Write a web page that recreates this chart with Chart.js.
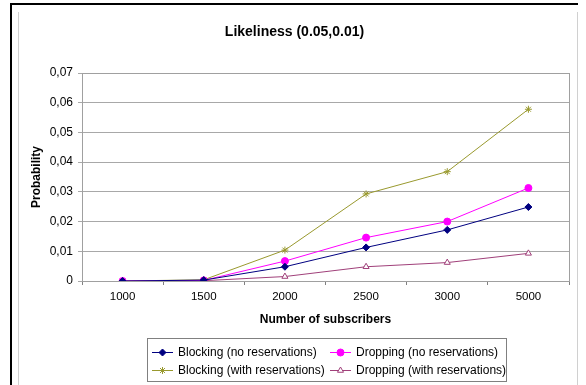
<!DOCTYPE html>
<html>
<head>
<meta charset="utf-8">
<script src="https://cdn.jsdelivr.net/npm/chart.js@4"></script>
<style>
  html, body { margin: 0; padding: 0; background: #fff; }
  #wrap { width: 586px; height: 385px; }
</style>
</head>
<body>
<div id="wrap"><canvas id="chart" width="586" height="385"></canvas></div>
<script>
const subscribers = ['1000', '1500', '2000', '2500', '3000', '5000'];
const blockingNoRes = [0, 0.0003, 0.0048, 0.0113, 0.0172, 0.0249];
const droppingNoRes = [0, 0.0002, 0.0067, 0.0146, 0.0200, 0.0313];
const blockingWithRes = [0, 0.0004, 0.0104, 0.0293, 0.0368, 0.0578];
const droppingWithRes = [0, 0.0001, 0.0015, 0.0048, 0.0062, 0.0093];
const yTicks = [0, 0.01, 0.02, 0.03, 0.04, 0.05, 0.06, 0.07];

const font = 'Liberation Sans, Arial, sans-serif';

// page frame and plot box, excel style
const framePlugin = {
  id: 'frame',
  beforeDraw(chart) {
    const c = chart.ctx;
    c.save();
    c.fillStyle = '#fff';
    c.fillRect(0, 0, chart.width, chart.height);
    c.strokeStyle = '#000';
    c.lineWidth = 2;
    c.beginPath();
    c.moveTo(11, 385);
    c.lineTo(11, 4);
    c.lineTo(578, 4);
    c.stroke();
    c.strokeStyle = '#d0d0d0';
    c.lineWidth = 1;
    c.beginPath();
    c.moveTo(18.5, 12);
    c.lineTo(18.5, 385);
    c.moveTo(577.5, 12);
    c.lineTo(577.5, 385);
    c.stroke();
    c.restore();
  },
  afterDraw(chart) {
    const a = chart.chartArea;
    const c = chart.ctx;
    c.save();
    c.strokeStyle = '#a0a0a0';
    c.lineWidth = 1;
    c.strokeRect(Math.round(a.left) + 0.5, Math.round(a.top) + 0.5,
      Math.round(a.right - a.left), Math.round(a.bottom - a.top));
    c.restore();
  }
};

function drawMarker(c, ds, x, y) {
  Chart.helpers.drawPoint(c, {
    pointStyle: ds.pointStyle,
    radius: ds.pointRadius,
    borderWidth: ds.pointBorderWidth || 1,
    rotation: 0
  }, x, y);
}

// two-column legend box with line+marker samples
const legendPlugin = {
  id: 'boxLegend',
  afterDraw(chart) {
    const c = chart.ctx;
    const box = { x: 147.5, y: 338.5, w: 359, h: 43 };
    const cols = [152, 330];
    const rows = [352, 370];
    c.save();
    c.strokeStyle = '#808080';
    c.lineWidth = 1;
    c.strokeRect(box.x, box.y, box.w, box.h);
    c.font = '12px ' + font;
    c.textBaseline = 'middle';
    c.fillStyle = '#000';
    chart.data.datasets.forEach((ds, i) => {
      const x = cols[i % 2];
      const y = rows[Math.floor(i / 2)];
      c.strokeStyle = ds.borderColor;
      c.lineWidth = 1;
      c.beginPath();
      c.moveTo(x, y + 0.5);
      c.lineTo(x + 21, y + 0.5);
      c.stroke();
      c.fillStyle = ds.pointBackgroundColor;
      c.strokeStyle = ds.pointBorderColor;
      drawMarker(c, ds, x + 10.5, y + 0.5);
      c.fillStyle = '#000';
      c.textAlign = 'left';
      c.fillText(ds.label, x + 26, y + 1);
    });
    c.restore();
  }
};

function series(label, data, color, style, radius, fill) {
  return {
    label,
    data,
    borderColor: color,
    borderWidth: 1,
    pointStyle: style,
    pointRadius: radius,
    pointHoverRadius: radius,
    pointBackgroundColor: fill || color,
    pointBorderColor: color,
    pointBorderWidth: 1,
    tension: 0,
    fill: false
  };
}

new Chart(document.getElementById('chart'), {
  type: 'line',
  data: {
    labels: subscribers,
    datasets: [
      series('Blocking (no reservations)', blockingNoRes, '#000080', 'rectRot', 3.5),
      series('Dropping (no reservations)', droppingNoRes, '#ff00ff', 'circle', 3.5),
      series('Blocking (with reservations)', blockingWithRes, '#99992e', 'star', 3.5),
      series('Dropping (with reservations)', droppingWithRes, '#a0407a', 'triangle', 3.5, '#fff')
    ]
  },
  options: {
    responsive: false,
    animation: false,
    devicePixelRatio: 1,
    layout: { padding: { left: 20, right: 17, top: 0, bottom: 54 } },
    plugins: {
      legend: { display: false },
      tooltip: { enabled: false },
      title: {
        display: true,
        text: 'Likeliness (0.05,0.01)',
        color: '#000',
        font: { family: font, size: 14, weight: 'bold', lineHeight: 1.2 },
        padding: { top: 24, bottom: 32.2 }
      }
    },
    scales: {
      x: {
        offset: true,
        grid: {
          offset: true,
          drawOnChartArea: false,
          drawTicks: true,
          tickLength: 4,
          color: '#808080'
        },
        border: { color: '#808080' },
        ticks: {
          color: '#000',
          font: { family: font, size: 11.5 },
          padding: 5,
          maxRotation: 0
        },
        title: {
          display: true,
          text: 'Number of subscribers',
          color: '#000',
          font: { family: font, size: 12, weight: 'bold', lineHeight: 1.2 },
          padding: { top: 0, bottom: 3.8 }
        },
        afterFit(scale) { scale.height = 50; }
      },
      y: {
        min: 0,
        max: 0.07,
        afterBuildTicks(scale) { scale.ticks = yTicks.map(v => ({ value: v })); },
        grid: {
          color: '#a8a8a8',
          tickLength: 4,
          drawTicks: true
        },
        border: { color: '#808080' },
        ticks: {
          color: '#000',
          font: { family: font, size: 12 },
          padding: 5,
          callback: v => v === 0 ? '0' : v.toFixed(2).replace('.', ',')
        },
        title: {
          display: true,
          text: 'Probability',
          color: '#000',
          font: { family: font, size: 12, weight: 'bold', lineHeight: 1.2 },
          padding: { top: 9.8, bottom: 0 }
        },
        afterFit(scale) { scale.width = 62; }
      }
    }
  },
  plugins: [framePlugin, legendPlugin]
});
</script>
</body>
</html>
